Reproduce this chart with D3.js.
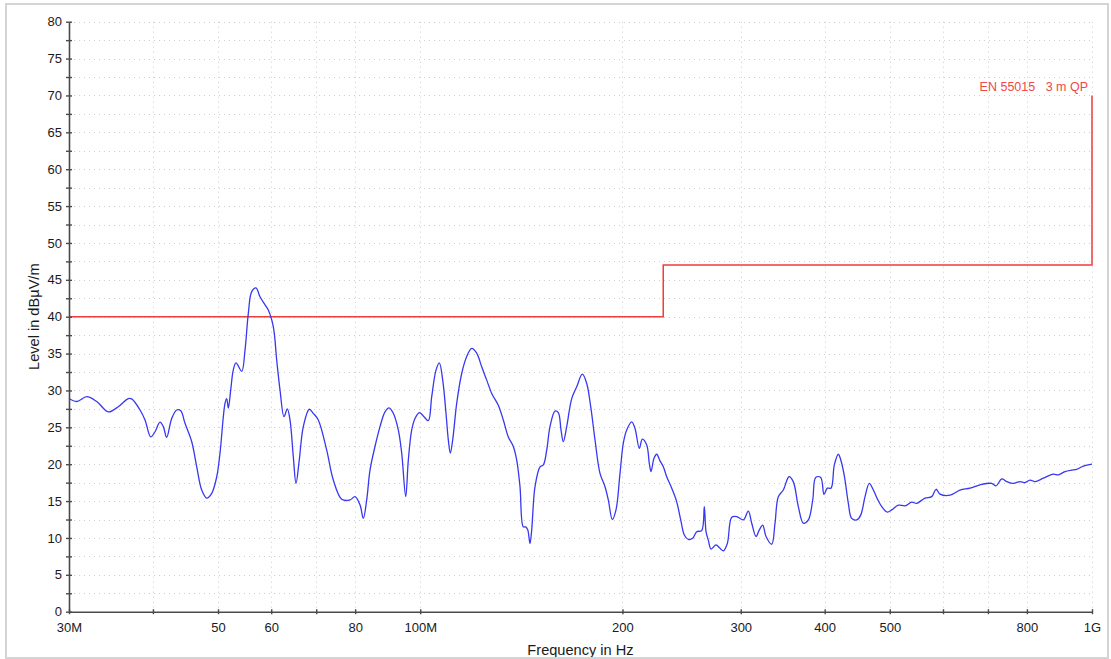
<!DOCTYPE html>
<html>
<head>
<meta charset="utf-8">
<script src="https://cdn.jsdelivr.net/npm/d3@7"></script>
<style>
  html, body { margin: 0; padding: 0; background: #fff; }
  svg { display: block; font-family: "Liberation Sans", Arial, sans-serif; }
</style>
</head>
<body>
<svg id="chart" width="1111" height="659"></svg>
<script>
// Measured field strength (frequency in MHz, level in dBµV/m)
const freqMHz = [
  30.0, 30.80, 31.88, 32.99, 34.33, 35.52, 36.76, 37.19, 38.27, 38.93,
  39.70, 40.29, 40.98, 41.45, 41.93, 42.66, 43.40, 44.00, 44.65, 45.69,
  46.48, 47.28, 48.10, 48.93, 49.78, 50.34, 51.21, 51.51, 51.80, 52.22,
  52.69, 53.18, 54.23, 54.85, 55.47, 56.12, 56.95, 57.74, 58.74, 59.40,
  60.43, 61.14, 61.84, 62.69, 63.40, 63.99, 64.72, 65.32, 66.06, 66.98,
  68.37, 69.31, 70.51, 72.57, 74.23, 76.40, 78.60, 79.96, 81.34, 82.27,
  83.23, 84.18, 85.63, 87.12, 88.62, 89.85, 91.18, 92.75, 93.84, 95.14,
  95.99, 97.12, 98.22, 99.68, 101.05, 102.80, 104.01, 105.55, 106.75, 108.01,
  109.23, 110.10, 110.85, 111.77, 113.31, 115.27, 117.27, 119.29, 121.35, 123.45,
  125.59, 127.76, 130.68, 132.94, 135.24, 137.57, 139.19, 140.77, 142.37, 143.55,
  144.54, 145.68, 146.53, 148.20, 150.76, 152.47, 154.26, 156.02, 158.71, 160.52,
  162.01, 163.29, 165.21, 168.07, 170.97, 174.28, 176.93, 179.37, 182.04, 185.18,
  188.38, 190.53, 193.16, 195.62, 198.32, 200.58, 202.93, 206.44, 208.79, 211.89,
  214.08, 217.33, 219.28, 220.56, 222.84, 224.91, 227.47, 230.06, 232.76, 236.78,
  240.87, 244.20, 247.23, 250.64, 254.45, 257.97, 262.43, 264.78, 266.33, 268.43,
  270.93, 275.61, 279.42, 282.60, 286.50, 290.85, 295.88, 302.65, 307.88, 311.49,
  316.12, 319.71, 323.46, 327.14, 333.60, 337.39, 341.23, 347.13, 353.98, 359.24,
  365.45, 371.76, 378.19, 383.94, 387.90, 394.61, 399.10, 403.64, 408.79, 413.44,
  419.15, 424.07, 428.89, 433.77, 438.86, 446.44, 452.60, 459.32, 466.14, 472.58,
  479.10, 486.38, 495.81, 503.35, 514.86, 526.82, 539.06, 548.38, 564.21, 577.31,
  585.89, 593.97, 614.69, 636.11, 658.30, 681.25, 709.13, 719.66, 733.86, 746.55,
  763.63, 781.37, 794.88, 808.62, 822.60, 846.34, 875.84, 890.99, 911.69, 932.87,
  948.99, 970.71, 1000
];
const levelDb = [
  28.9, 28.5, 29.15, 28.5, 27.1, 27.8, 28.9, 28.85, 27.35, 26.0,
  23.7, 24.4, 25.7, 25.1, 23.65, 26.2, 27.35, 27.25, 25.55, 23.05,
  19.65, 16.5, 15.4, 16.05, 18.3, 21.5, 28.25, 28.9, 27.6, 30.05,
  32.8, 33.75, 32.6, 35.5, 40.45, 43.4, 43.9, 42.7, 41.6, 40.9,
  38.65, 34.1, 30.05, 26.45, 27.5, 26.0, 21.0, 17.4, 20.6, 25.1,
  27.45, 26.9, 26.0, 21.9, 17.85, 15.25, 15.15, 15.6, 14.5, 12.65,
  15.15, 19.2, 22.4, 25.1, 27.1, 27.65, 26.9, 24.65, 21.5, 15.6,
  20.55, 24.65, 26.2, 27.0, 26.55, 25.9, 29.15, 32.75, 33.75, 31.4,
  26.9, 23.3, 21.5, 23.3, 28.25, 32.3, 34.6, 35.7, 35.05, 33.2,
  31.4, 29.6, 28.0, 26.0, 23.7, 22.4, 20.55, 16.95, 11.5, 11.5,
  11.1, 9.25, 11.1, 16.95, 19.65, 19.9, 21.9, 25.1, 27.2, 27.0,
  24.65, 23.05, 25.1, 28.9, 30.5, 32.2, 30.95, 27.8, 23.3, 18.75,
  16.95, 15.15, 12.5, 13.8, 18.75, 22.85, 24.65, 25.75, 24.85, 22.15,
  23.4, 22.6, 20.1, 19.0, 20.8, 21.35, 20.45, 19.65, 18.3, 16.75,
  14.9, 12.45, 10.4, 9.8, 9.95, 10.85, 11.0, 14.25, 10.85, 9.7,
  8.5, 9.05, 8.6, 8.25, 9.25, 12.8, 12.9, 12.45, 13.65, 12.0,
  10.2, 11.1, 11.75, 10.2, 9.15, 12.0, 15.6, 16.5, 18.3, 17.6,
  14.25, 12.0, 12.45, 15.15, 18.2, 18.2, 15.9, 16.75, 16.75, 19.9,
  21.35, 20.1, 17.85, 14.7, 12.65, 12.45, 13.1, 15.6, 17.4, 16.5,
  15.3, 14.25, 13.5, 13.8, 14.45, 14.35, 14.85, 14.7, 15.4, 15.6,
  16.6, 15.95, 15.8, 16.5, 16.75, 17.2, 17.4, 17.05, 18.0, 17.65,
  17.4, 17.65, 17.5, 17.85, 17.65, 18.1, 18.65, 18.55, 19.0, 19.2,
  19.3, 19.75, 20.0
];

// EN 55015 3 m quasi-peak limit
const limitFreq = [30, 230, 230, 1000, 1000];
const limitDb   = [40, 40, 47, 47, 70];
const limitName = "EN 55015   3 m QP";

// Axis ticks
const xTickValues = [30, 40, 50, 60, 70, 80, 100, 200, 300, 400, 500, 600, 700, 800, 1000];
const xTickLabels = ["30M", "", "50", "60", "", "80", "100M", "200", "300", "400", "500", "", "", "800", "1G"];
const yTickValues = d3.range(0, 80.01, 2.5);

const svg = d3.select("#chart");
const plotLeft = 69, plotRight = 1092, plotTop = 21.7, plotBottom = 611.7;

const x = d3.scaleLog().domain([30, 1000]).range([plotLeft, plotRight]);
const y = d3.scaleLinear().domain([0, 80]).range([plotBottom, plotTop]);

// dotted grid
const grid = svg.append("g").attr("stroke", "#cdcdcd").attr("stroke-width", 1)
  .attr("stroke-dasharray", "1,4");
grid.selectAll("line.h").data(yTickValues.filter(v => v > 0)).join("line")
  .attr("class", "h")
  .attr("x1", plotLeft).attr("x2", plotRight)
  .attr("y1", d => Math.round(y(d)) + 0.5).attr("y2", d => Math.round(y(d)) + 0.5);
grid.selectAll("line.v").data(xTickValues.filter(v => v > 30)).join("line")
  .attr("class", "v")
  .attr("y1", plotTop).attr("y2", plotBottom)
  .attr("x1", d => Math.round(x(d)) + 0.5).attr("x2", d => Math.round(x(d)) + 0.5);

// limit line
const limitPts = limitFreq.map((f, i) => [f, limitDb[i]]);
svg.append("path")
  .datum(limitPts)
  .attr("fill", "none")
  .attr("stroke", "#f03c3c")
  .attr("stroke-width", 1.5)
  .attr("d", d3.line().x(d => x(d[0])).y(d => y(d[1])));

svg.append("text")
  .attr("x", 1088).attr("y", 90.5)
  .attr("text-anchor", "end")
  .attr("fill", "#f04848")
  .attr("font-size", 12.5)
  .style("white-space", "pre")
  .text(limitName);

// measured trace
const pts = freqMHz.map((f, i) => [f, levelDb[i]]);
svg.append("path")
  .datum(pts)
  .attr("fill", "none")
  .attr("stroke", "#3838f0")
  .attr("stroke-width", 1.3)
  .attr("stroke-linejoin", "round")
  .attr("d", d3.line().curve(d3.curveCatmullRom.alpha(0.5))
    .x(d => x(d[0])).y(d => y(d[1])));

// axes
const axisColor = "#4a4a4a";
const yAxis = svg.append("g")
  .attr("transform", `translate(${plotLeft},0)`)
  .call(d3.axisLeft(y).tickValues(yTickValues)
    .tickFormat(d => (d % 5 === 0 ? d3.format("d")(d) : ""))
    .tickSizeOuter(0).tickSizeInner(3).tickPadding(4));
yAxis.select(".domain").attr("stroke", axisColor).attr("stroke-width", 1.6);
yAxis.selectAll(".tick line").attr("x1", -3).attr("x2", 3)
  .attr("stroke", axisColor).attr("stroke-width", 1.4);
yAxis.selectAll(".tick text").attr("font-size", 13).attr("fill", "#1a1a1a")
  .attr("font-family", "Liberation Sans, Arial, sans-serif");

const xAxis = svg.append("g")
  .attr("transform", `translate(0,${plotBottom})`)
  .call(d3.axisBottom(x).tickValues(xTickValues)
    .tickFormat((d, i) => xTickLabels[i])
    .tickSizeOuter(0).tickSizeInner(3).tickPadding(8));
xAxis.select(".domain").attr("stroke", axisColor).attr("stroke-width", 1.6);
xAxis.selectAll(".tick line").attr("y1", -2.5).attr("y2", 2.5)
  .attr("stroke", axisColor).attr("stroke-width", 1.4);
xAxis.selectAll(".tick text").attr("font-size", 13).attr("fill", "#1a1a1a")
  .attr("font-family", "Liberation Sans, Arial, sans-serif");

// axis titles
svg.append("text")
  .attr("x", (plotLeft + plotRight) / 2).attr("y", 655)
  .attr("text-anchor", "middle").attr("font-size", 14.6).attr("fill", "#1a1a1a")
  .text("Frequency in Hz");
svg.append("text")
  .attr("transform", `translate(39,${(plotTop + plotBottom) / 2}) rotate(-90)`)
  .attr("text-anchor", "middle").attr("font-size", 14.6).attr("fill", "#1a1a1a")
  .text("Level in dBµV/m");

// outer frame
svg.append("rect")
  .attr("x", 6).attr("y", 4).attr("width", 1102).attr("height", 654)
  .attr("fill", "none").attr("stroke", "#d4d4d4").attr("stroke-width", 2);
</script>
</body>
</html>
